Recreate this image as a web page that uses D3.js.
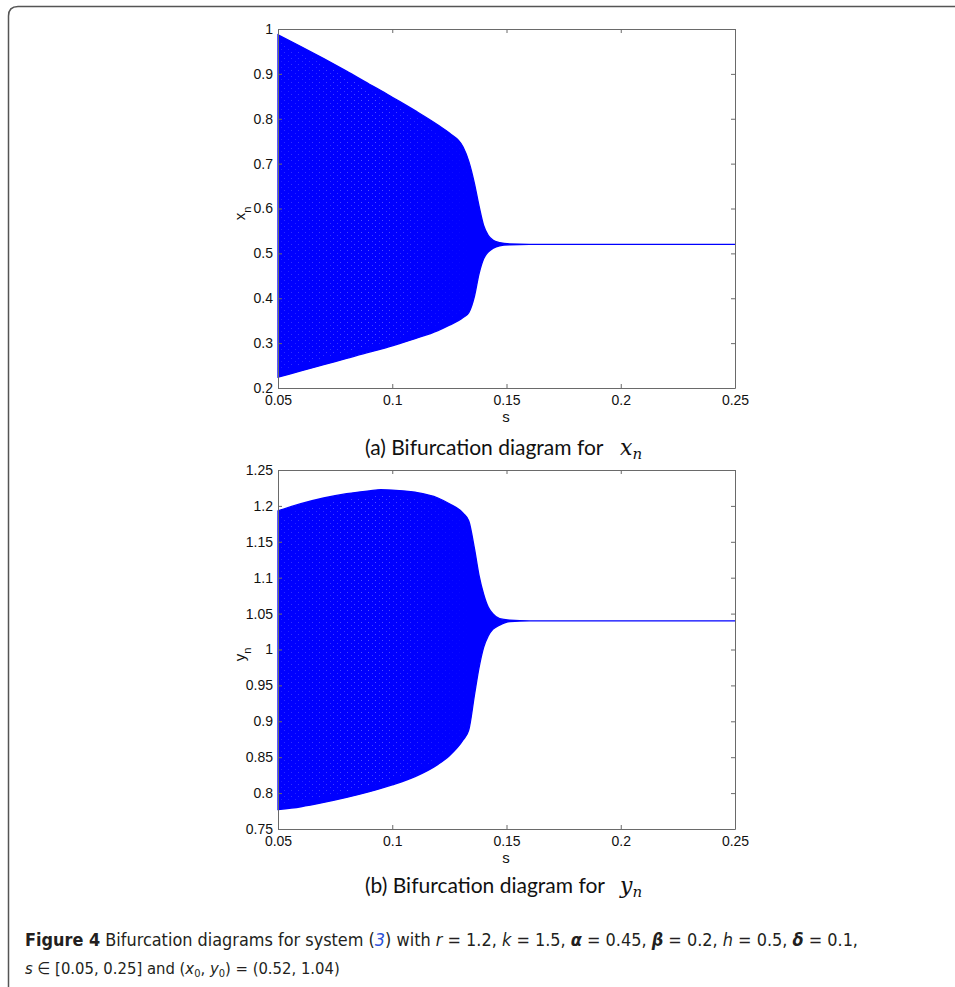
<!DOCTYPE html>
<html lang="en">
<head>
  <meta charset="UTF-8">
  <title>bifurcation diagrams</title>
  <script src="https://cdn.jsdelivr.net/npm/d3@7"></script>
  <style>
    body { margin: 0; background: #fff; }
  </style>
</head>
<body>
<svg></svg>
<script>
  const width = 955, height = 987

  const sVals  = [0.05, 0.06, 0.07, 0.08, 0.09, 0.095, 0.10, 0.11, 0.12, 0.125, 0.131, 0.1335, 0.136, 0.138, 0.140, 0.142, 0.144, 0.147, 0.1515, 0.16, 0.25]
  // x_n band
  const xUpper = [0.987, 0.961, 0.934, 0.906, 0.877, 0.863, 0.848, 0.818, 0.786, 0.768, 0.737, 0.705, 0.655, 0.605, 0.562, 0.540, 0.530, 0.524, 0.521, 0.520, 0.520]
  const xLower = [0.224, 0.238, 0.252, 0.266, 0.280, 0.2865, 0.294, 0.310, 0.328, 0.340, 0.357, 0.368, 0.405, 0.455, 0.488, 0.503, 0.511, 0.517, 0.519, 0.520, 0.520]
  // y_n band
  const yUpper = [1.193, 1.203, 1.211, 1.217, 1.221, 1.2225, 1.222, 1.219, 1.211, 1.203, 1.190, 1.179, 1.140, 1.103, 1.077, 1.059, 1.050, 1.043, 1.041, 1.040, 1.040]
  const yLower = [0.777, 0.781, 0.787, 0.794, 0.802, 0.8065, 0.8115, 0.823, 0.840, 0.852, 0.874, 0.888, 0.937, 0.975, 1.003, 1.019, 1.028, 1.034, 1.039, 1.040, 1.040]

  const sTicks  = [0.05, 0.1, 0.15, 0.2, 0.25]
  const xnTicks = [0.2, 0.3, 0.4, 0.5, 0.6, 0.7, 0.8, 0.9, 1]
  const ynTicks = [0.75, 0.8, 0.85, 0.9, 0.95, 1, 1.05, 1.1, 1.15, 1.2, 1.25]

  const svg = d3.select('svg')
      .attr('width', width)
      .attr('height', height)

  // faint speckle texture seen inside the chaotic band
  const defs = svg.append('defs')
  const pat = defs.append('pattern')
      .attr('id', 'speck')
      .attr('patternUnits', 'userSpaceOnUse')
      .attr('width', 7)
      .attr('height', 6)
  pat.append('rect').attr('width', 7).attr('height', 6).attr('fill', '#0000ff')
  pat.append('rect').attr('x', 1).attr('y', 1).attr('width', 1).attr('height', 1).attr('fill', '#5252ff')
  pat.append('rect').attr('x', 4).attr('y', 4).attr('width', 1).attr('height', 1).attr('fill', '#6a6aff')
  const grad = defs.append('linearGradient').attr('id', 'fade')
  grad.append('stop').attr('offset', '0').attr('stop-color', '#fff').attr('stop-opacity', 0.4)
  grad.append('stop').attr('offset', '0.5').attr('stop-color', '#fff').attr('stop-opacity', 0.8)
  grad.append('stop').attr('offset', '1').attr('stop-color', '#fff').attr('stop-opacity', 0)
  defs.append('mask').attr('id', 'fadeMask')
    .append('rect')
      .attr('x', 280).attr('y', 0).attr('width', 190).attr('height', height)
      .attr('fill', 'url(#fade)')

  // page frame, open to the right and bottom
  svg.append('path')
      .attr('d', 'M8.5,995 V16 Q8.5,6.5 18,6.5 H965')
      .attr('fill', 'none')
      .attr('stroke', '#555')
      .attr('stroke-width', 1.5)

  const left = 278, right = 735
  const x = d3.scaleLinear().domain([0.05, 0.25]).range([left, right])
  const tickFont = '"Liberation Sans", Arial, sans-serif'

  function styleAxis(g) {
    g.selectAll('path, line').attr('stroke', '#6a6a6a')
    g.selectAll('text')
        .attr('fill', '#111')
        .style('font-family', tickFont)
        .style('font-size', '14px')
  }

  function panel(top, bottom, domain, ticks, upper, lower, name, tag, capY) {
    const y = d3.scaleLinear().domain(domain).range([bottom, top])
    const rows = sVals.map((s, i) => ({s: s, hi: upper[i], lo: lower[i]}))

    const area = d3.area()
        .x(d => x(d.s))
        .y0(d => y(d.lo))
        .y1(d => y(d.hi))
        .curve(d3.curveMonotoneX)

    svg.append('path')
        .datum(rows)
        .attr('fill', '#0000ff')
        .attr('stroke', '#0000ff')
        .attr('stroke-width', 1.3)
        .attr('d', area)

    svg.append('path')
        .datum(rows)
        .attr('fill', 'url(#speck)')
        .attr('mask', 'url(#fadeMask)')
        .attr('d', area.y0(d => y(d.lo) - 6).y1(d => y(d.hi) + 6))

    const fmt = d3.format('')
    const g = svg.append('g')
    g.append('g')
        .attr('transform', `translate(0,${bottom})`)
        .call(d3.axisBottom(x).tickValues(sTicks).tickSize(-4).tickSizeOuter(0).tickPadding(7).tickFormat(fmt))
    g.append('g')
        .attr('transform', `translate(0,${top})`)
        .call(d3.axisTop(x).tickValues(sTicks).tickSize(-4).tickSizeOuter(0).tickFormat(''))
    g.append('g')
        .attr('transform', `translate(${left},0)`)
        .call(d3.axisLeft(y).tickValues(ticks).tickSize(-4).tickSizeOuter(0).tickPadding(5).tickFormat(fmt))
    g.append('g')
        .attr('transform', `translate(${right},0)`)
        .call(d3.axisRight(y).tickValues(ticks).tickSize(-4).tickSizeOuter(0).tickFormat(''))
    styleAxis(g)

    // axis titles
    svg.append('text')
        .attr('x', 506)
        .attr('y', bottom + 34)
        .attr('text-anchor', 'middle')
        .style('font-family', tickFont)
        .style('font-size', '15px')
        .style('fill', '#111')
        .text('s')

    const yl = svg.append('text')
        .attr('transform', `translate(245,${(top + bottom) / 2 + 5}) rotate(-90)`)
        .attr('text-anchor', 'middle')
        .style('font-family', tickFont)
        .style('font-size', '15px')
        .style('fill', '#111')
    yl.append('tspan').text(name)
    yl.append('tspan').attr('baseline-shift', 'sub').style('font-size', '11px').text('n')

    // sub caption
    const cap = svg.append('text')
        .attr('x', 365)
        .attr('y', capY)
        .style('font-family', 'Lato, "Open Sans", sans-serif')
        .style('font-size', '21px')
        .style('fill', '#111')
    cap.append('tspan').text(`(${tag}) Bifurcation diagram for`)
    cap.append('tspan')
        .attr('x', 620)
        .style('font-family', '"DejaVu Serif", "Liberation Serif", serif')
        .style('font-style', 'italic')
        .style('font-size', '22px')
        .text(name)
    cap.append('tspan')
        .attr('dy', 4)
        .style('font-family', '"DejaVu Serif", "Liberation Serif", serif')
        .style('font-style', 'italic')
        .style('font-size', '15px')
        .text('n')
  }

  panel(29, 388, [0.2, 1], xnTicks, xUpper, xLower, 'x', 'a', 455)
  panel(470, 829, [0.75, 1.25], ynTicks, yUpper, yLower, 'y', 'b', 893)

  // figure caption
  const capFont = '"Liberation Sans Narrow", "DejaVu Sans Condensed", "Roboto Condensed", sans-serif'
  const line1 = svg.append('text')
      .attr('x', 25)
      .attr('y', 946)
      .attr('textLength', 833)
      .attr('lengthAdjust', 'spacingAndGlyphs')
      .style('font-family', capFont)
      .style('font-size', '17px')
      .style('fill', '#231f20')
  const parts1 = [
    ['Figure 4', 'b'], ['  Bifurcation diagrams for system (', ''], ['3', 'link'], [') with ', ''],
    ['r', 'i'], [' = 1.2, ', ''], ['k', 'i'], [' = 1.5, ', ''], ['α', 'bi'], [' = 0.45, ', ''],
    ['β', 'bi'], [' = 0.2, ', ''], ['h', 'i'], [' = 0.5, ', ''], ['δ', 'bi'], [' = 0.1,', '']
  ]
  parts1.forEach(([t, k]) => {
    const sp = line1.append('tspan').text(t)
    if (k.includes('b')) sp.style('font-weight', 'bold')
    if (k.includes('i')) sp.style('font-style', 'italic')
    if (k === 'link') sp.style('fill', '#2b4fd8')
  })

  const line2 = svg.append('text')
      .attr('x', 25)
      .attr('y', 974)
      .style('font-family', capFont)
      .style('font-size', '16.5px')
      .style('fill', '#231f20')
  line2.append('tspan').style('font-style', 'italic').text('s')
  line2.append('tspan').text(' ∈ [0.05, 0.25] and (')
  line2.append('tspan').style('font-style', 'italic').text('x')
  line2.append('tspan').attr('dy', 3).style('font-size', '11px').text('0')
  line2.append('tspan').attr('dy', -3).text(', ')
  line2.append('tspan').style('font-style', 'italic').text('y')
  line2.append('tspan').attr('dy', 3).style('font-size', '11px').text('0')
  line2.append('tspan').attr('dy', -3).text(') = (0.52, 1.04)')
</script>
</body>
</html>
